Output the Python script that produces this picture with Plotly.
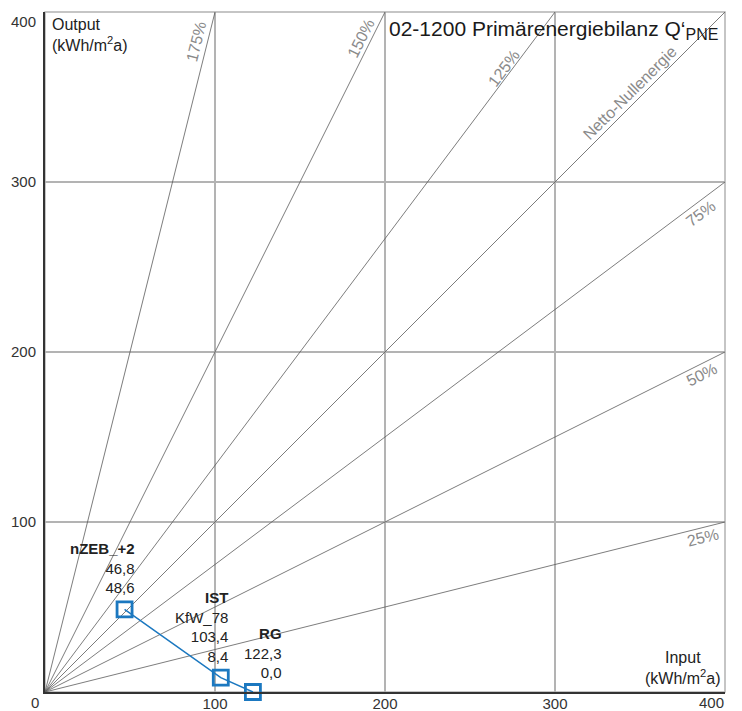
import math
import plotly.graph_objects as go

# --- data -------------------------------------------------------------
# reference rays: output/input ratio and their labels
ray_slopes = [0.25, 0.5, 0.75, 1.0, 4 / 3, 2.0, 4.0]
ray_labels = ["25%", "50%", "75%", "Netto-Nullenergie", "125%", "150%", "175%"]

# building variants: input (x) and output (y) in kWh/m²a
variant_names = ["nZEB_+2", "IST", "RG"]
variant_sub = ["", "KfW_78", ""]
input_kwh = [46.8, 103.4, 122.3]
output_kwh = [48.6, 8.4, 0.0]

tick_vals = [100, 200, 300]
axis_max = 400

# --- styling / placement ---------------------------------------------
FONT = "Liberation Sans, Arial, sans-serif"
BLUE = "#1b78c0"
GRID = "#b3b3b3"
RAY = "#5a5a5a"
RAY_TXT = "#8a8a8a"

# label centres (data units) for the ray captions, same order as ray_slopes
ray_label_pos = [(387.1, 90.6), (386.5, 186.5), (385.9, 281.2), (344.1, 352.9),
                 (270.0, 366.5), (185.6, 384.7), (88.8, 382.9)]
# (xshift, yshift) of each variant's caption block relative to its marker
variant_shift = [(12, 11), (9, 11), (31, 9)]

fig = go.Figure()

# rays from the origin to the plot border
for s in ray_slopes:
    if s <= 1:
        ex, ey = axis_max, axis_max * s
    else:
        ex, ey = axis_max / s, axis_max
    fig.add_trace(go.Scatter(x=[0, ex], y=[0, ey], mode="lines",
                             line=dict(color=RAY, width=0.8),
                             hoverinfo="skip", showlegend=False))

# variant path
fig.add_trace(go.Scatter(x=input_kwh, y=output_kwh, mode="lines+markers",
                         line=dict(color=BLUE, width=1.5),
                         marker=dict(symbol="square-open", size=15,
                                     color=BLUE, line=dict(color=BLUE, width=2.8)),
                         cliponaxis=False, showlegend=False))

ann = []
for s, lab, (lx, ly) in zip(ray_slopes, ray_labels, ray_label_pos):
    ann.append(dict(x=lx, y=ly, xref="x", yref="y", text=lab, showarrow=False,
                    textangle=-math.degrees(math.atan(s)),
                    xanchor="center", yanchor="middle",
                    font=dict(family=FONT, size=16, color=RAY_TXT)))


def fmt(v):
    return f"{v:.1f}".replace(".", ",")


for name, sub, xv, yv, (dx, dy) in zip(variant_names, variant_sub, input_kwh,
                                        output_kwh, variant_shift):
    lines = [f"<b>{name}</b>"]
    if sub:
        lines.append(sub)
    lines += [fmt(xv), fmt(yv)]
    ann.append(dict(x=xv, y=yv, xref="x", yref="y", text="<br>".join(lines),
                    showarrow=False, align="right", xanchor="right",
                    yanchor="bottom", xshift=dx, yshift=dy,
                    font=dict(family=FONT, size=15, color="#222222")))

# title
ann.append(dict(x=0.503, y=1, xref="paper", yref="paper", xanchor="left",
                yanchor="top", yshift=-3, showarrow=False,
                text="02-1200 Primärenergiebilanz Q‘<sub><span style='font-size:16px'>PNE</span></sub>",
                font=dict(family=FONT, size=21, color="#1a1a1a")))

# axis captions
ann.append(dict(x=0, y=1, xref="paper", yref="paper", xanchor="left",
                yanchor="top", xshift=5, yshift=-2, showarrow=False, align="left",
                text="Output<br>(kWh/m<sup>2</sup>a)",
                font=dict(family=FONT, size=16, color="#222222")))
ann.append(dict(x=1, y=0, xref="paper", yref="paper", xanchor="right",
                yanchor="bottom", xshift=-2, yshift=3, showarrow=False, align="center",
                text="Input<br>(kWh/m<sup>2</sup>a)",
                font=dict(family=FONT, size=16, color="#222222")))

# corner tick labels
tick_font = dict(family=FONT, size=15, color="#333333")
ann.append(dict(x=0, y=0, xref="paper", yref="paper", text="0", showarrow=False,
                xanchor="center", yanchor="middle", xshift=-10, yshift=-10,
                font=tick_font))
ann.append(dict(x=1, y=0, xref="paper", yref="paper", text=str(axis_max),
                showarrow=False, xanchor="right", yanchor="middle", xshift=1,
                yshift=-10, font=tick_font))
ann.append(dict(x=0, y=1, xref="paper", yref="paper", text=str(axis_max),
                showarrow=False, xanchor="right", yanchor="middle", xshift=-7,
                yshift=-9, font=tick_font))

# grey frame on top/right
shapes = [dict(type="rect", xref="paper", yref="paper", x0=0, y0=0, x1=1, y1=1,
               line=dict(color=GRID, width=1.5), layer="below")]

fig.update_layout(
    width=742, height=711,
    margin=dict(l=45, r=17, t=12, b=19),
    paper_bgcolor="white", plot_bgcolor="white",
    annotations=ann, shapes=shapes, showlegend=False,
    font=dict(family=FONT),
)
fig.update_xaxes(range=[0, axis_max], tickvals=tick_vals, showgrid=True,
                 gridcolor=GRID, gridwidth=1.5, zeroline=False, showline=True,
                 linecolor="#333333", linewidth=2, ticks="", automargin=False,
                 ticklabelstandoff=-3, tickfont=tick_font)
fig.update_yaxes(range=[0, axis_max], tickvals=tick_vals, showgrid=True,
                 gridcolor=GRID, gridwidth=1.5, zeroline=False, showline=True,
                 linecolor="#333333", linewidth=2, ticks="", automargin=False,
                 ticklabelstandoff=4, tickfont=tick_font)

fig.write_html("out.html")
